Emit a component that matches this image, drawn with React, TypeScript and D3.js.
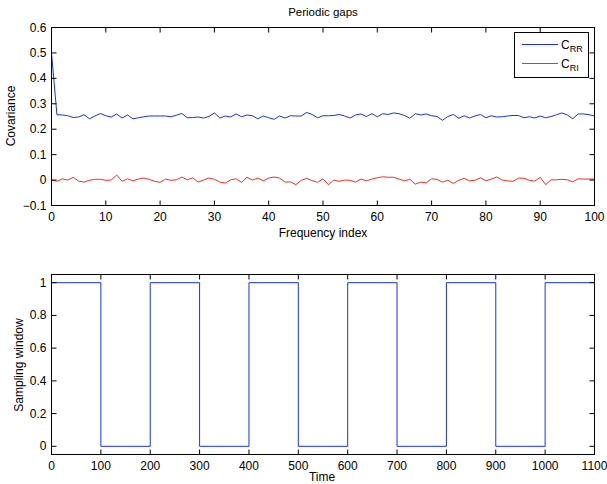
import React from "react";
import * as d3 from "d3";

// Covariance estimates per frequency index (0..100)
const crr: number[] = [
  0.5, 0.257, 0.256, 0.253, 0.246, 0.248, 0.257, 0.241, 0.252, 0.262,
  0.253, 0.248, 0.26, 0.244, 0.256, 0.241, 0.245, 0.249, 0.252, 0.252,
  0.252, 0.252, 0.249, 0.255, 0.262, 0.245, 0.246, 0.248, 0.244, 0.25,
  0.264, 0.244, 0.252, 0.248, 0.26, 0.249, 0.256, 0.253, 0.241, 0.252,
  0.245, 0.239, 0.252, 0.244, 0.253, 0.252, 0.252, 0.266, 0.258, 0.245,
  0.253, 0.253, 0.254, 0.258, 0.252, 0.244, 0.256, 0.26, 0.25, 0.261,
  0.249, 0.261, 0.258, 0.264, 0.261, 0.254, 0.243, 0.261, 0.256, 0.26,
  0.253, 0.25, 0.235, 0.25, 0.258, 0.243, 0.253, 0.244, 0.252, 0.258,
  0.245, 0.253, 0.248, 0.249, 0.252, 0.254, 0.254, 0.245, 0.249, 0.244,
  0.252, 0.245, 0.25, 0.257, 0.264, 0.256, 0.241, 0.26, 0.26, 0.257,
  0.252,
];
const cri: number[] = [
  0.0, -0.005, 0.005, 0.0, 0.011, -0.004, -0.008, -0.001, 0.003, 0.003,
  -0.001, 0.0, 0.02, -0.005, 0.005, -0.003, 0.004, 0.008, 0.003, -0.005,
  -0.009, 0.004, -0.001, 0.001, 0.012, 0.001, 0.009, -0.008, 0.0, 0.008,
  0.003, -0.008, -0.012, 0.001, 0.005, -0.009, 0.011, 0.0, 0.008, -0.003,
  0.008, 0.012, 0.008, -0.008, -0.007, -0.018, -0.001, 0.007, -0.002, -0.009,
  0.005, -0.018, 0.0, -0.005, 0.0, -0.001, -0.008, 0.004, -0.003, 0.004,
  0.009, 0.013, 0.011, 0.011, 0.004, -0.003, 0.003, -0.016, -0.008, -0.011,
  0.005, 0.003, -0.008, -0.001, -0.013, -0.001, 0.007, -0.003, -0.001, 0.009,
  -0.003, 0.004, 0.012, 0.0, -0.003, -0.005, 0.008, 0.007, -0.001, -0.004,
  0.011, -0.018, 0.001, 0.001, 0.003, 0.001, -0.007, 0.005, 0.004, 0.004,
  0.004,
];

// Sampling window: on/off gates over time
const gateTimes: number[] = [0, 100, 200, 300, 400, 500, 600, 700, 800, 900, 1000, 1100];
const gateLevels: number[] = [1, 0, 1, 0, 1, 0, 1, 0, 1, 0, 1, 1];

const covTicksY: number[] = [-0.1, 0, 0.1, 0.2, 0.3, 0.4, 0.5, 0.6];
const freqTicksX: number[] = [0, 10, 20, 30, 40, 50, 60, 70, 80, 90, 100];
const winTicksY: number[] = [0, 0.2, 0.4, 0.6, 0.8, 1];
const timeTicksX: number[] = [0, 100, 200, 300, 400, 500, 600, 700, 800, 900, 1000, 1100];

const BLUE = "#1530ff";
const RED = "#ff2a20";
const FONT = "'Liberation Sans', Arial, Helvetica, sans-serif";
const TICK = 5;
const FS = 12;

type FrameProps = {
  x: d3.ScaleLinear<number, number>;
  y: d3.ScaleLinear<number, number>;
  xt: number[];
  yt: number[];
  fmtY: (v: number) => string;
};

function Frame({ x, y, xt, yt, fmtY }: FrameProps) {
  const [x0, x1] = x.range();
  const [y0, y1] = y.range(); // y0 bottom, y1 top
  return (
    <g>
      {xt.map((t) => (
        <g key={"x" + t}>
          <line x1={x(t)} x2={x(t)} y1={y0} y2={y0 - TICK} stroke="#000" />
          <line x1={x(t)} x2={x(t)} y1={y1} y2={y1 + TICK} stroke="#000" />
          <text x={x(t)} y={y0 + 15} textAnchor="middle" fontSize={FS} fontFamily={FONT} fill="#000">
            {t}
          </text>
        </g>
      ))}
      {yt.map((t) => (
        <g key={"y" + t}>
          <line x1={x0} x2={x0 + TICK} y1={y(t)} y2={y(t)} stroke="#000" />
          <line x1={x1} x2={x1 - TICK} y1={y(t)} y2={y(t)} stroke="#000" />
          <text x={x0 - 5} y={y(t) + 4} textAnchor="end" fontSize={FS} fontFamily={FONT} fill="#000">
            {fmtY(t)}
          </text>
        </g>
      ))}
      <rect x={x0} y={y1} width={x1 - x0} height={y0 - y1} fill="none" stroke="#000" strokeWidth={1} />
    </g>
  );
}

export default function App() {
  const L = 51.5;
  const R = 594.5;

  const xf = d3.scaleLinear().domain([0, 100]).range([L, R]);
  const yc = d3.scaleLinear().domain([-0.1, 0.6]).range([205.5, 27.5]);

  const xt = d3.scaleLinear().domain([0, 1100]).range([L, R]);
  const yw = d3.scaleLinear().domain([-0.05, 1.05]).range([454.5, 274.5]);

  const covLine = d3
    .line<number>()
    .x((_, i) => xf(i))
    .y((d) => yc(d));

  const winLine = d3
    .line<number>()
    .x((_, i) => xt(gateTimes[i]))
    .y((d) => yw(d))
    .curve(d3.curveStepAfter);

  const fmtCov = (v: number) => (Math.abs(v) < 1e-9 ? "0" : String(Math.round(v * 10) / 10).replace("-", "\u2212"));
  const fmtWin = (v: number) => String(v);

  const legX = 514.5;
  const legY = 32.5;

  return (
    <svg width={607} height={484} style={{ position: "absolute", left: 0, top: 0, background: "#fff" }}>
      {/* Covariance panel */}
      <text x={323} y={16} textAnchor="middle" fontSize={11.5} fontFamily={FONT}>
        Periodic gaps
      </text>
      <path d={covLine(crr) || ""} fill="none" stroke={BLUE} strokeWidth={1} />
      <path d={covLine(cri) || ""} fill="none" stroke={RED} strokeWidth={1} />
      <Frame x={xf} y={yc} xt={freqTicksX} yt={covTicksY} fmtY={fmtCov} />
      <text x={323} y={237} textAnchor="middle" fontSize={FS} fontFamily={FONT}>
        Frequency index
      </text>
      <text transform={`translate(15,116) rotate(-90)`} textAnchor="middle" fontSize={FS} fontFamily={FONT}>
        Covariance
      </text>

      {/* Legend */}
      <g>
        <rect x={legX} y={legY} width={74} height={45} fill="#fff" stroke="#000" />
        <line x1={522} x2={558} y1={44.5} y2={44.5} stroke={BLUE} />
        <text x={561} y={49} fontSize={FS} fontFamily={FONT}>
          C<tspan fontSize={9} dy={3}>RR</tspan>
        </text>
        <line x1={522} x2={558} y1={63.5} y2={63.5} stroke={RED} />
        <text x={561} y={68} fontSize={FS} fontFamily={FONT}>
          C<tspan fontSize={9} dy={3}>RI</tspan>
        </text>
      </g>

      {/* Sampling window panel */}
      <path d={winLine(gateLevels) || ""} fill="none" stroke={BLUE} strokeWidth={1} />
      <Frame x={xt} y={yw} xt={timeTicksX} yt={winTicksY} fmtY={fmtWin} />
      <text x={322} y={481} textAnchor="middle" fontSize={FS} fontFamily={FONT}>
        Time
      </text>
      <text transform={`translate(23,365) rotate(-90)`} textAnchor="middle" fontSize={FS} fontFamily={FONT}>
        Sampling window
      </text>
    </svg>
  );
}
